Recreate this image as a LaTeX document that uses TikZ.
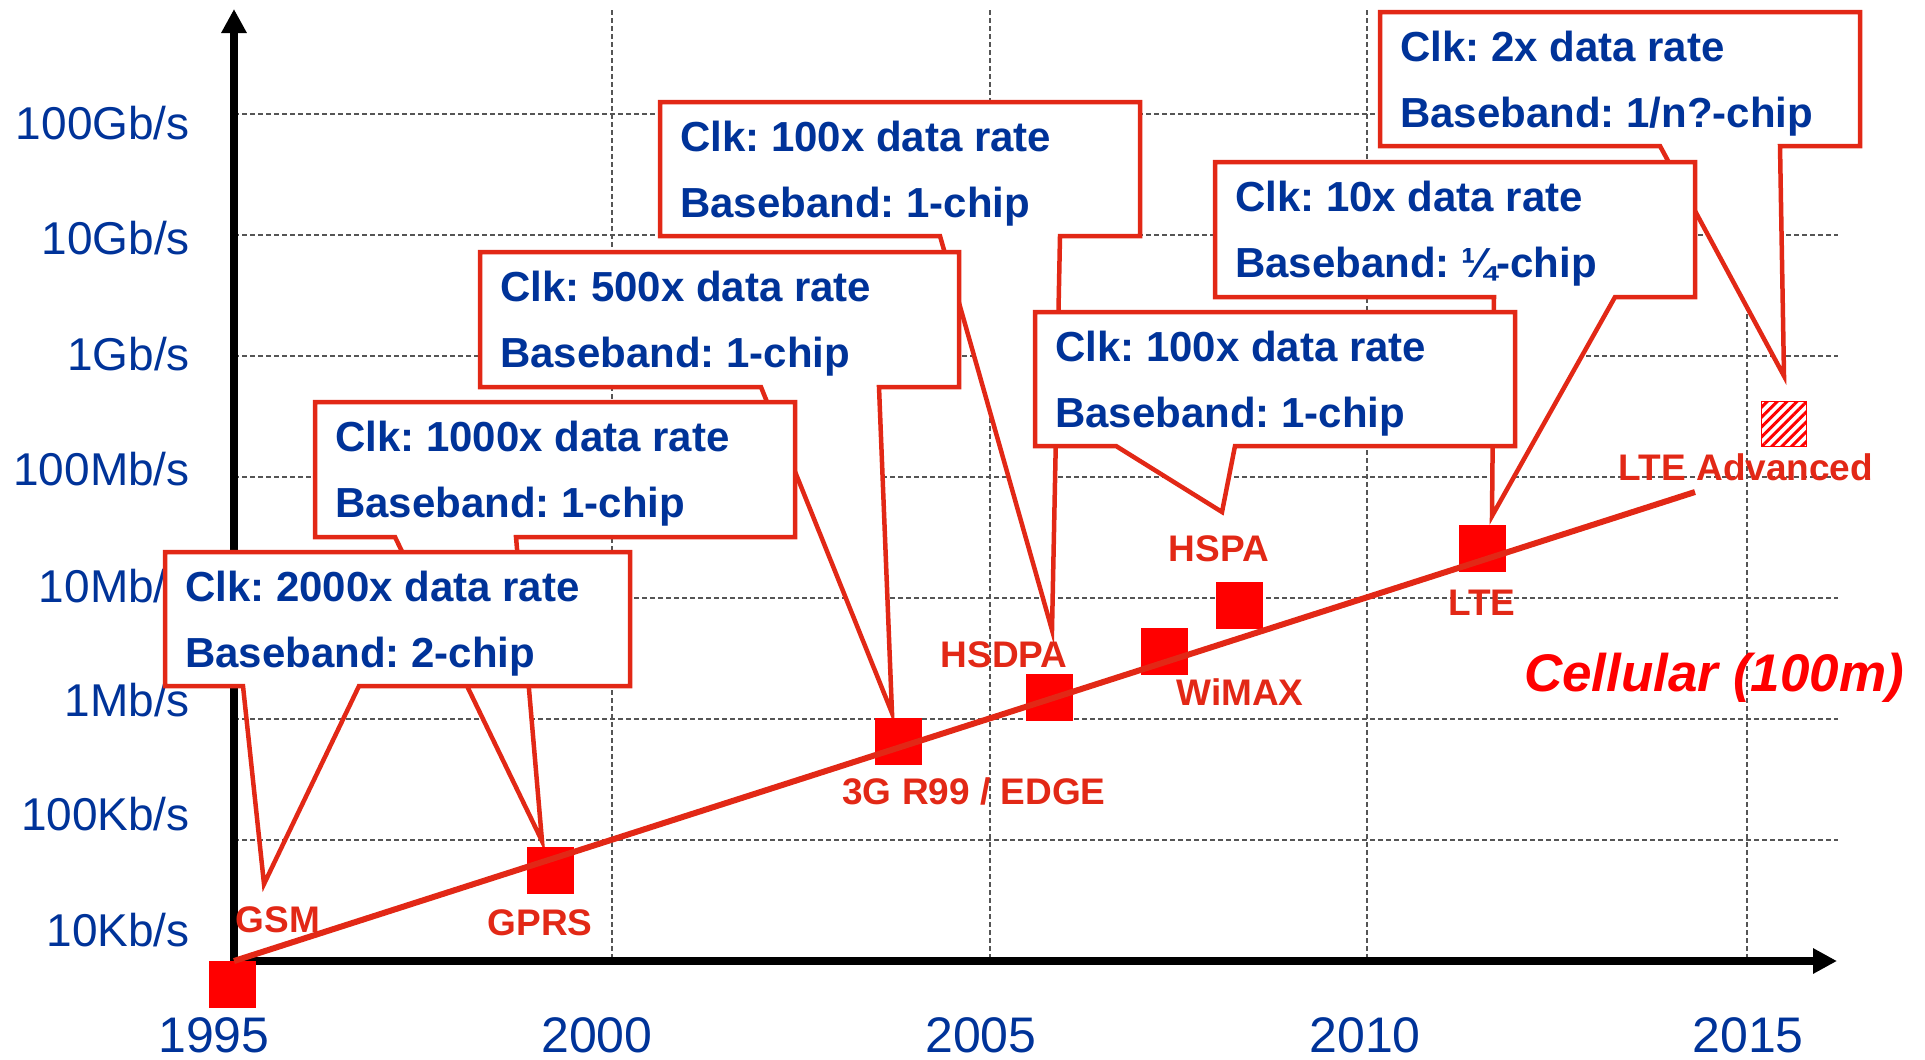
\documentclass[tikz,border=0pt]{standalone}
\usepackage{fontspec}
\setmainfont{Liberation Sans}
\usetikzlibrary{arrows.meta,patterns.meta}
\definecolor{lblue}{RGB}{0,51,153}
\definecolor{lred}{RGB}{226,40,22}
\definecolor{pred}{RGB}{255,0,0}
\definecolor{gridgray}{RGB}{85,85,85}
\frenchspacing
\begin{document}
\begin{tikzpicture}[x=1pt,y=-1pt,
  gridline/.style={draw=gridgray,line width=1.2pt,dash pattern=on 5pt off 3pt},
  axisline/.style={line width=8pt,-{Triangle[length=24pt,width=24pt]}},
  ylab/.style={text=lblue,font=\fontsize{46}{50}\selectfont,anchor=base east,inner sep=0pt},
  xlab/.style={text=lblue,font=\fontsize{50}{56}\selectfont,anchor=base,inner sep=0pt},
  callout/.style={draw=lred,fill=white,line width=4.5pt,line join=miter},
  calloutline/.style={draw=lred,line width=4.5pt,line join=miter},
  boxtext/.style={text=lblue,font=\bfseries\fontsize{42}{48}\selectfont,anchor=base west,inner sep=0pt},
  tech/.style={text=lred,font=\bfseries\fontsize{37}{42}\selectfont,anchor=base,inner sep=0pt},
  sq/.style={fill=pred,minimum size=47pt,inner sep=0pt},
  trend/.style={draw=lred,line width=6pt}
]
\useasboundingbox (0,0) rectangle (1925,1060);

% grid
\foreach \gx in {612,990,1367,1747} \draw[gridline] (\gx,10) -- (\gx,961);
\foreach \gy in {114,235,356,477,598,719,840} \draw[gridline] (234,\gy) -- (1838,\gy);

% axes
\coordinate (origin) at (234,961);
\coordinate (ytop) at (234,9);
\coordinate (xend) at (1837,961);
\draw[axisline] (234,965) -- (ytop);
\draw[axisline] (230,961) -- (xend);

% axis labels
\node[ylab] (y1) at (190,139) {100Gb/s};
\node[ylab] (y2) at (190,254) {10Gb/s};
\node[ylab] (y3) at (190,370) {1Gb/s};
\node[ylab] (y4) at (190,485) {100Mb/s};
\node[ylab] (y5) at (190,602) {10Mb/s};
\node[ylab] (y6) at (190,716) {1Mb/s};
\node[ylab] (y7) at (190,830) {100Kb/s};
\node[ylab] (y8) at (190,946) {10Kb/s};
\node[xlab] (x1) at (214,1052) {1995};
\node[xlab] (x2) at (597,1052) {2000};
\node[xlab] (x3) at (981,1052) {2005};
\node[xlab] (x4) at (1365,1052) {2010};
\node[xlab] (x5) at (1748,1052) {2015};

% callout 7 (LTE Advanced)
\draw[callout] (1380,12) -- (1860,12) -- (1860,146) -- (1780,146) -- (1784,376) -- (1660,146) -- (1380,146) -- cycle;
\node[boxtext] (b7a) at (1400,61) {Clk: 2x data rate};
\node[boxtext] (b7b) at (1400,127) {Baseband: 1/n?-chip};

% callout 6 (LTE)
\draw[callout] (1215,162) -- (1695,162) -- (1695,297) -- (1615,297) -- (1492,516) -- (1494,297) -- (1215,297) -- cycle;
\node[boxtext] (b6a) at (1235,211) {Clk: 10x data rate};
\node[boxtext] (b6b) at (1235,277) {Baseband: ¼-chip};

% callout 4 (HSDPA)
\draw[callout] (660,102) -- (1140,102) -- (1140,236) -- (1060,236) -- (1052,630) -- (940,236) -- (660,236) -- cycle;
\node[boxtext] (b4a) at (680,151) {Clk: 100x data rate};
\node[boxtext] (b4b) at (680,217) {Baseband: 1-chip};

% callout 5 (HSPA)
\draw[callout] (1035,312) -- (1515,312) -- (1515,446) -- (1235,446) -- (1222,512) -- (1116,446) -- (1035,446) -- cycle;
\node[boxtext] (b5a) at (1055,361) {Clk: 100x data rate};
\node[boxtext] (b5b) at (1055,427) {Baseband: 1-chip};

% callout 3 (3G)
\draw[callout] (480,252) -- (959,252) -- (959,387) -- (879,387) -- (892,713) -- (761,387) -- (480,387) -- cycle;
\node[boxtext] (b3a) at (500,301) {Clk: 500x data rate};
\node[boxtext] (b3b) at (500,367) {Baseband: 1-chip};

% callout 2 (GPRS)
\draw[callout] (315,402) -- (795,402) -- (795,537) -- (516,537) -- (542,841) -- (395,537) -- (315,537) -- cycle;
\node[boxtext] (b2a) at (335,451) {Clk: 1000x data rate};
\node[boxtext] (b2b) at (335,517) {Baseband: 1-chip};

% callout 1 (GSM)
\fill[white] (165,552) rectangle (630,686);
\draw[calloutline] (165,552) -- (630,552) -- (630,686) -- (359,686) -- (264,884) -- (243,686) -- (165,686) -- cycle;
\node[boxtext] (b1a) at (185,601) {Clk: 2000x data rate};
\node[boxtext] (b1b) at (185,667) {Baseband: 2-chip};

% data points
\node[sq] (s1995) at (232,984) {};
\node[sq] (sgprs) at (550,870) {};
\node[sq] (s3g) at (898,741) {};
\node[sq] (shsdpa) at (1049,697) {};
\node[sq] (swimax) at (1164,651) {};
\node[sq] (shspa) at (1239,605) {};
\node[sq] (slte) at (1482,548) {};
\node[draw=pred,line width=1.5pt,pattern={Lines[angle=45,distance=7pt,line width=3pt]},pattern color=pred,minimum size=45pt,inner sep=0pt] (slta) at (1784,424) {};

% trend line
\coordinate (tend) at (1695,492);
\draw[trend] (origin) -- (tend);

% technology labels
\node[tech] (lgsm) at (278,932) {GSM};
\node[tech] (lgprs) at (540,935) {GPRS};
\node[tech] (l3g) at (974,804) {3G R99 / EDGE};
\node[tech] (lhsdpa) at (1004,667) {HSDPA};
\node[tech] (lwimax) at (1240,705) {WiMAX};
\node[tech] (lhspa) at (1219,561) {HSPA};
\node[tech] (llte) at (1482,615) {LTE};
\node[tech] (llta) at (1746,480) {LTE Advanced};
\node[text=pred,font=\bfseries\itshape\fontsize{53}{60}\selectfont,anchor=base,inner sep=0pt] (cell) at (1714,691) {Cellular (100m)};
\end{tikzpicture}
\end{document}
